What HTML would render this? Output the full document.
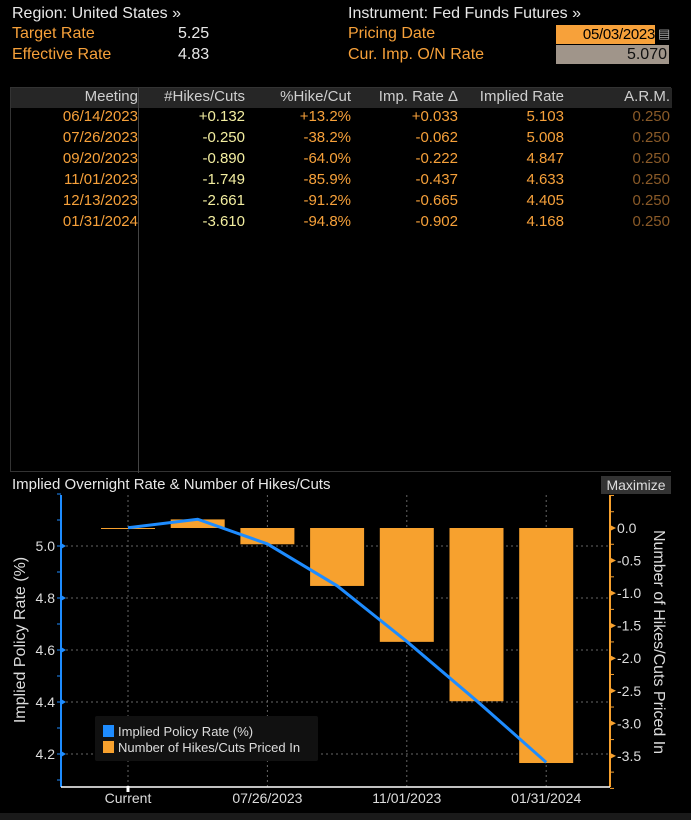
<!DOCTYPE html>
<html><head><meta charset="utf-8"><style>
body{margin:0;background:#000;width:691px;height:820px;overflow:hidden;font-family:"Liberation Sans Narrow","Liberation Sans",sans-serif;position:relative}
.t{position:absolute;font-size:16px;white-space:nowrap}
.w{color:#e8e8e8}.o{color:#f7a13a}
#tbl{position:absolute;left:10px;top:87px;width:661px;height:385px;border:1px solid #333;border-right:none;box-sizing:border-box}
.hdr{position:absolute;left:0;top:0;width:661px;height:20px;background:#262626}
.c{position:absolute;font-size:15px;text-align:right;white-space:nowrap}
</style></head><body>
<div class="t w" style="left:12px;top:5px">Region: United States »</div>
<div class="t o" style="left:12px;top:25px">Target Rate</div>
<div class="t w" style="left:178px;top:25px">5.25</div>
<div class="t o" style="left:12px;top:46px">Effective Rate</div>
<div class="t w" style="left:178px;top:46px">4.83</div>
<div class="t w" style="left:348px;top:5px">Instrument: Fed Funds Futures »</div>
<div class="t o" style="left:348px;top:25px">Pricing Date</div>
<div class="t o" style="left:348px;top:46px">Cur. Imp. O/N Rate</div>
<div class="t" style="left:556px;top:25px;width:99px;height:19px;background:#f7a13a;color:#000;text-align:right;line-height:19px;font-size:15px;letter-spacing:-0.3px">05/03/2023</div>
<div class="t" style="left:658px;top:26px;color:#aaa;font-size:13px">▤</div>
<div class="t" style="left:556px;top:45px;width:113px;height:19px;background:#a0958a;color:#111;text-align:right;line-height:19px;padding-right:2px;box-sizing:border-box">5.070</div>

<div id="tbl">
<div class="hdr"></div>
<div style="position:absolute;left:127px;top:0;width:1px;height:385px;background:#444"></div>
</div>
<div id="rows"></div>

<div class="t w" style="left:12px;top:476px;font-size:15px">Implied Overnight Rate &amp; Number of Hikes/Cuts</div>
<div class="t" style="left:601px;top:476px;width:70px;height:18px;background:#333;color:#ddd;font-size:14px;text-align:center;line-height:18px">Maximize</div>
<svg id="ch" width="691" height="820" style="position:absolute;left:0;top:0"></svg>
<div style="position:absolute;left:0;top:813px;width:691px;height:7px;background:#1a1a1a"></div>

<script>
const meetings=["06/14/2023","07/26/2023","09/20/2023","11/01/2023","12/13/2023","01/31/2024"];
const hikes=["+0.132","-0.250","-0.890","-1.749","-2.661","-3.610"];
const pct=["+13.2%","-38.2%","-64.0%","-85.9%","-91.2%","-94.8%"];
const delta=["+0.033","-0.062","-0.222","-0.437","-0.665","-0.902"];
const implied=["5.103","5.008","4.847","4.633","4.405","4.168"];
const arm=["0.250","0.250","0.250","0.250","0.250","0.250"];
const categories=["Current","06/14/2023","07/26/2023","09/20/2023","11/01/2023","12/13/2023","01/31/2024"];
const rateValues=[5.070,5.103,5.008,4.847,4.633,4.405,4.168];
const hikeValues=[0,0.132,-0.250,-0.890,-1.749,-2.661,-3.610];
const leftTicks=[5.0,4.8,4.6,4.4,4.2];
const rightTicks=[0.0,-0.5,-1.0,-1.5,-2.0,-2.5,-3.0,-3.5];
const xLabels=["Current","07/26/2023","11/01/2023","01/31/2024"];

const rows=document.getElementById('rows');
function cell(txt,right,top,color,name){const d=document.createElement('div');d.className='c';d.textContent=txt;d.style.right=(691-right)+'px';d.style.top=top+'px';d.style.color=color;


rows.appendChild(d);}
const heads=["Meeting","#Hikes/Cuts","%Hike/Cut","Imp. Rate Δ","Implied Rate","A.R.M."];
const rights=[138,245,351,458,564,670];
heads.forEach((h,i)=>cell(h,rights[i],88,'#cfcfcf','header-'+i));
const cols=[meetings,hikes,pct,delta,implied,arm];
const colors=['#f7a13a','#f3eea0','#f7a13a','#f7a13a','#f7a13a','#8a5a28'];
meetings.forEach((m,r)=>cols.forEach((c,i)=>cell(c[r],rights[i],108+r*21,colors[i],'row-'+r+'-col-'+i)));

const svg=document.getElementById('ch');const NS='http://www.w3.org/2000/svg';
function el(t,a,name){const e=document.createElementNS(NS,t);for(const k in a)e.setAttribute(k,a[k]);


svg.appendChild(e);return e;}
const X0=61,X1=610,Y0=495,Y1=787;
const xs=i=>128+i*69.7;
const yL=v=>546+(5.0-v)*260;
const yR=v=>528-v*65.1;
leftTicks.forEach(v=>el('line',{x1:X0,x2:X1,y1:yL(v),y2:yL(v),stroke:'#666','stroke-dasharray':'2,3'},'h-grid'));
xLabels.forEach(l=>{const i=categories.indexOf(l);el('line',{x1:xs(i),x2:xs(i),y1:Y0,y2:Y1,stroke:'#666','stroke-dasharray':'2,3'},'v-grid');});
hikeValues.forEach((v,i)=>{const y=Math.min(yR(0),yR(v));const h=Math.max(Math.abs(yR(v)-yR(0)),1);
el('rect',{x:xs(i)-27,y:y,width:54,height:h,fill:'#f7a12e'},'bar-'+i);});
el('polyline',{points:rateValues.map((v,i)=>xs(i)+','+yL(v)).join(' '),fill:'none',stroke:'#1e8cff','stroke-width':3},'rate-line');
el('line',{x1:X0,x2:X0,y1:Y0,y2:Y1,stroke:'#1e8cff','stroke-width':2},'left-axis');
el('line',{x1:X1,x2:X1,y1:Y0,y2:Y1,stroke:'#f7a12e','stroke-width':2},'right-axis');
el('line',{x1:X0,x2:X1,y1:Y1,y2:Y1,stroke:'#fff','stroke-width':1.5},'x-axis');
for(let v=5.2;v>=4.1;v-=0.1){el('line',{x1:X0-4,x2:X0,y1:yL(v),y2:yL(v),stroke:'#1e8cff'},'left-minor-tick');}
leftTicks.forEach(v=>{el('path',{d:`M${X0} ${yL(v)-3}L${X0+5} ${yL(v)}L${X0} ${yL(v)+3}Z`,fill:'#1e8cff'},'left-tick');
const t=el('text',{x:X0-6,y:yL(v)+5,'text-anchor':'end',fill:'#ddd','font-size':14},'left-tick-label');t.textContent=v.toFixed(1);});
for(let v=0.5;v>=-4.0;v-=0.25){el('line',{x1:X1,x2:X1+4,y1:yR(v),y2:yR(v),stroke:'#f7a12e'},'right-minor-tick');}
rightTicks.forEach(v=>{el('path',{d:`M${X1} ${yR(v)-3}L${X1+6} ${yR(v)}L${X1} ${yR(v)+3}Z`,fill:'#f7a12e'},'right-tick');
const t=el('text',{x:X1+7,y:yR(v)+5,fill:'#ddd','font-size':14},'right-tick-label');t.textContent=v.toFixed(1);});
xLabels.forEach(l=>{const i=categories.indexOf(l);const t=el('text',{x:xs(i),y:803,'text-anchor':'middle',fill:'#ddd','font-size':14},'x-tick-label');t.textContent=l;});
el('rect',{x:xs(0)-1.5,y:Y1-1,width:3,height:6,fill:'#fff'},'current-marker');
let t=el('text',{x:0,y:0,transform:'translate(25,640) rotate(-90)','text-anchor':'middle',fill:'#ddd','font-size':16},'left-axis-title');t.textContent='Implied Policy Rate (%)';
t=el('text',{x:0,y:0,transform:'translate(654,642) rotate(90)','text-anchor':'middle',fill:'#ddd','font-size':16},'right-axis-title');t.textContent='Number of Hikes/Cuts Priced In';
el('rect',{x:95,y:716,width:223,height:45,fill:'#111',rx:2},'legend');
el('rect',{x:103,y:725,width:11,height:12,fill:'#1e8cff'},'legend-swatch-rate');
el('rect',{x:103,y:741,width:11,height:12,fill:'#f7a12e'},'legend-swatch-hikes');
t=el('text',{x:118,y:736,fill:'#ddd','font-size':13},'legend-entry-rate');t.textContent='Implied Policy Rate (%)';
t=el('text',{x:118,y:752,fill:'#ddd','font-size':13},'legend-entry-hikes');t.textContent='Number of Hikes/Cuts Priced In';
</script>
</body></html>
